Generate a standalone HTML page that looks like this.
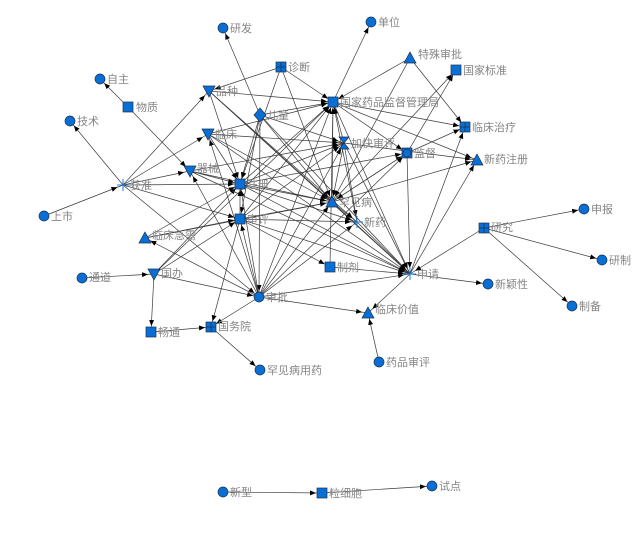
<!DOCTYPE html>
<html><head><meta charset="utf-8"><style>
html,body{margin:0;padding:0;background:#fff;}
svg{display:block}
text{font-family:"Liberation Sans","Noto Sans CJK SC",sans-serif;font-size:11px;fill:#858585}
</style></head><body>
<svg width="643" height="558" viewBox="0 0 643 558">
<defs><marker id="a" markerUnits="userSpaceOnUse" markerWidth="8" markerHeight="6" refX="12" refY="2.5" orient="auto"><path d="M0,0L6,2.5L0,5z" fill="#000"/></marker></defs>
<g stroke="#3a3a3a" stroke-width="0.7" marker-end="url(#a)">
<line x1="260" y1="115" x2="223" y2="28"/>
<line x1="333" y1="102" x2="371" y2="22"/>
<line x1="128" y1="107" x2="100" y2="79"/>
<line x1="128" y1="107" x2="190" y2="171"/>
<line x1="123" y1="185" x2="70" y2="121"/>
<line x1="44" y1="216" x2="123" y2="185"/>
<line x1="123" y1="185" x2="209" y2="91"/>
<line x1="123" y1="185" x2="208" y2="134"/>
<line x1="123" y1="185" x2="190" y2="171"/>
<line x1="123" y1="185" x2="240" y2="184"/>
<line x1="123" y1="185" x2="240" y2="219"/>
<line x1="123" y1="185" x2="259" y2="297"/>
<line x1="281" y1="67" x2="209" y2="91"/>
<line x1="281" y1="67" x2="333" y2="102"/>
<line x1="281" y1="67" x2="240" y2="184"/>
<line x1="281" y1="67" x2="332" y2="202"/>
<line x1="410" y1="58" x2="333" y2="102"/>
<line x1="410" y1="58" x2="465" y2="127"/>
<line x1="410" y1="58" x2="332" y2="202"/>
<line x1="407" y1="153" x2="456" y2="70"/>
<line x1="332" y1="202" x2="456" y2="70"/>
<line x1="333" y1="102" x2="465" y2="127"/>
<line x1="333" y1="102" x2="477" y2="160"/>
<line x1="333" y1="102" x2="407" y2="153"/>
<line x1="407" y1="153" x2="465" y2="127"/>
<line x1="407" y1="153" x2="410" y2="274"/>
<line x1="410" y1="274" x2="465" y2="127"/>
<line x1="410" y1="274" x2="477" y2="160"/>
<line x1="332" y1="202" x2="477" y2="160"/>
<line x1="332" y1="202" x2="407" y2="153"/>
<line x1="484" y1="228" x2="410" y2="274"/>
<line x1="484" y1="228" x2="584" y2="209"/>
<line x1="484" y1="228" x2="602" y2="260"/>
<line x1="484" y1="228" x2="572" y2="306"/>
<line x1="410" y1="274" x2="488" y2="284"/>
<line x1="410" y1="274" x2="368" y2="313"/>
<line x1="379" y1="362" x2="368" y2="313"/>
<line x1="259" y1="297" x2="368" y2="313"/>
<line x1="82" y1="278" x2="154" y2="274"/>
<line x1="154" y1="274" x2="151" y2="332"/>
<line x1="151" y1="332" x2="211" y2="327"/>
<line x1="211" y1="327" x2="260" y2="370"/>
<line x1="259" y1="297" x2="211" y2="327"/>
<line x1="240" y1="219" x2="211" y2="327"/>
<line x1="154" y1="274" x2="240" y2="219"/>
<line x1="154" y1="274" x2="259" y2="297"/>
<line x1="154" y1="274" x2="240" y2="184"/>
<line x1="145" y1="238" x2="240" y2="219"/>
<line x1="259" y1="297" x2="145" y2="238"/>
<line x1="223" y1="492" x2="322" y2="493"/>
<line x1="322" y1="493" x2="432" y2="486"/>
<line x1="209" y1="91" x2="333" y2="102"/>
<line x1="209" y1="91" x2="332" y2="202"/>
<line x1="209" y1="91" x2="240" y2="184"/>
<line x1="209" y1="91" x2="410" y2="274"/>
<line x1="208" y1="134" x2="344" y2="143"/>
<line x1="208" y1="134" x2="333" y2="102"/>
<line x1="208" y1="134" x2="332" y2="202"/>
<line x1="208" y1="134" x2="240" y2="184"/>
<line x1="259" y1="297" x2="208" y2="134"/>
<line x1="190" y1="171" x2="240" y2="184"/>
<line x1="190" y1="171" x2="344" y2="143"/>
<line x1="259" y1="297" x2="190" y2="171"/>
<line x1="190" y1="171" x2="410" y2="274"/>
<line x1="260" y1="115" x2="333" y2="102"/>
<line x1="260" y1="115" x2="344" y2="143"/>
<line x1="260" y1="115" x2="240" y2="184"/>
<line x1="260" y1="115" x2="240" y2="219"/>
<line x1="260" y1="115" x2="259" y2="297"/>
<line x1="260" y1="115" x2="332" y2="202"/>
<line x1="260" y1="115" x2="410" y2="274"/>
<line x1="240" y1="184" x2="333" y2="102"/>
<line x1="240" y1="184" x2="344" y2="143"/>
<line x1="240" y1="184" x2="332" y2="202"/>
<line x1="240" y1="184" x2="357" y2="222"/>
<line x1="240" y1="184" x2="410" y2="274"/>
<line x1="240" y1="184" x2="407" y2="153"/>
<line x1="240" y1="219" x2="240" y2="184"/>
<line x1="240" y1="219" x2="333" y2="102"/>
<line x1="240" y1="219" x2="344" y2="143"/>
<line x1="240" y1="219" x2="332" y2="202"/>
<line x1="240" y1="219" x2="357" y2="222"/>
<line x1="240" y1="219" x2="410" y2="274"/>
<line x1="259" y1="297" x2="240" y2="219"/>
<line x1="259" y1="297" x2="240" y2="184"/>
<line x1="259" y1="297" x2="333" y2="102"/>
<line x1="259" y1="297" x2="344" y2="143"/>
<line x1="259" y1="297" x2="332" y2="202"/>
<line x1="259" y1="297" x2="357" y2="222"/>
<line x1="259" y1="297" x2="410" y2="274"/>
<line x1="259" y1="297" x2="407" y2="153"/>
<line x1="344" y1="143" x2="333" y2="102"/>
<line x1="344" y1="143" x2="332" y2="202"/>
<line x1="344" y1="143" x2="357" y2="222"/>
<line x1="344" y1="143" x2="410" y2="274"/>
<line x1="332" y1="202" x2="333" y2="102"/>
<line x1="332" y1="202" x2="357" y2="222"/>
<line x1="332" y1="202" x2="410" y2="274"/>
<line x1="357" y1="222" x2="333" y2="102"/>
<line x1="357" y1="222" x2="410" y2="274"/>
<line x1="330" y1="267" x2="410" y2="274"/>
<line x1="330" y1="267" x2="333" y2="102"/>
<line x1="240" y1="219" x2="330" y2="267"/>
<line x1="190" y1="171" x2="332" y2="202"/>
<line x1="145" y1="238" x2="240" y2="184"/>
<line x1="145" y1="238" x2="332" y2="202"/>
<line x1="154" y1="274" x2="333" y2="102"/>
<line x1="209" y1="91" x2="357" y2="222"/>
<line x1="208" y1="134" x2="410" y2="274"/>
<line x1="407" y1="153" x2="332" y2="202"/>
<line x1="333" y1="102" x2="410" y2="274"/>
<line x1="344" y1="143" x2="477" y2="160"/>
</g>
<g fill="#0a6fd4" stroke="#1a3050" stroke-width="0.7">
<circle cx="223" cy="28" r="5"/><circle cx="371" cy="22" r="5"/><circle cx="100" cy="79" r="5"/>
<circle cx="70" cy="121" r="5"/><circle cx="44" cy="216" r="5"/><circle cx="584" cy="209" r="5"/>
<circle cx="602" cy="260" r="5"/><circle cx="82" cy="278" r="5"/><circle cx="488" cy="284" r="5"/>
<circle cx="259" cy="297" r="5"/><circle cx="572" cy="306" r="5"/><circle cx="260" cy="370" r="5"/>
<circle cx="379" cy="362" r="5"/><circle cx="223" cy="492" r="5"/><circle cx="432" cy="486" r="5"/>
<rect x="276" y="62" width="10" height="10"/><path d="M281 62V72M276 67H286" fill="none"/>
<rect x="460" y="122" width="10" height="10"/><path d="M465 122V132M460 127H470" fill="none"/>
<rect x="479" y="223" width="10" height="10"/><path d="M484 223V233M479 228H489" fill="none"/>
<rect x="206" y="322" width="10" height="10"/><path d="M211 322V332M206 327H216" fill="none"/>
<rect x="451" y="65" width="10" height="10"/><rect x="123" y="102" width="10" height="10"/>
<rect x="328" y="97" width="10" height="10"/><rect x="235" y="179" width="10" height="10"/>
<rect x="235" y="214" width="10" height="10"/><rect x="325" y="262" width="10" height="10"/>
<rect x="146" y="327" width="10" height="10"/><rect x="317" y="488" width="10" height="10"/>
<rect x="402" y="148" width="10" height="10"/><circle cx="407" cy="153" r="4"/>
<path d="M410 52L416 63H404z"/><path d="M477 154L483 165H471z"/><path d="M332 196L338 207H326z"/>
<path d="M145 232L151 243H139z"/><path d="M368 307L374 318H362z"/>
<path d="M203 86H215L209 97z"/><path d="M202 129H214L208 140z"/><path d="M184 166H196L190 177z"/><path d="M148 269H160L154 280z"/>
<path d="M260 108L266 115L260 122L254 115z"/>
<path d="M339 137H349L339 149H349z"/>
</g>
<g stroke="#1a7fe0" stroke-width="1"><path d="M117 185H129M123 179V191M357 216V228M351 222H363M404 274H416M410 268V280"/></g>
<g>
<text x="230" y="32">研发</text><text x="378" y="26">单位</text><text x="107" y="83">自主</text>
<text x="288" y="71">诊断</text><text x="418" y="58">特殊审批</text><text x="463" y="74">国家标准</text>
<text x="216" y="95">品种</text><text x="136" y="111">物质</text><text x="267" y="119">儿童</text>
<text x="340" y="106">国家药品监督管理局</text><text x="77" y="125">技术</text><text x="215" y="138">临床</text>
<text x="472" y="131">临床治疗</text><text x="351" y="147">加快审评</text><text x="414" y="157">监督</text>
<text x="484" y="163">新药注册</text><text x="197" y="172">器械</text><text x="130" y="189">获准</text>
<text x="247" y="188">注册</text><text x="339" y="206">罕见病</text><text x="51" y="220">上市</text>
<text x="247" y="223">审评</text><text x="364" y="226">新药</text><text x="152" y="239">临床急需</text>
<text x="491" y="231">研究</text><text x="591" y="213">申报</text><text x="609" y="264">研制</text>
<text x="89" y="281">通道</text><text x="161" y="277">国办</text><text x="337" y="271">制剂</text>
<text x="417" y="278">申请</text><text x="495" y="288">新颖性</text><text x="266" y="301">审批</text>
<text x="579" y="310">制备</text><text x="375" y="313">临床价值</text><text x="158" y="336">畅通</text>
<text x="218" y="330">国务院</text><text x="267" y="374">罕见病用药</text><text x="386" y="366">药品审评</text>
<text x="230" y="496">新型</text><text x="329" y="497">粒细胞</text><text x="439" y="490">试点</text>
</g>
</svg>
</body></html>
